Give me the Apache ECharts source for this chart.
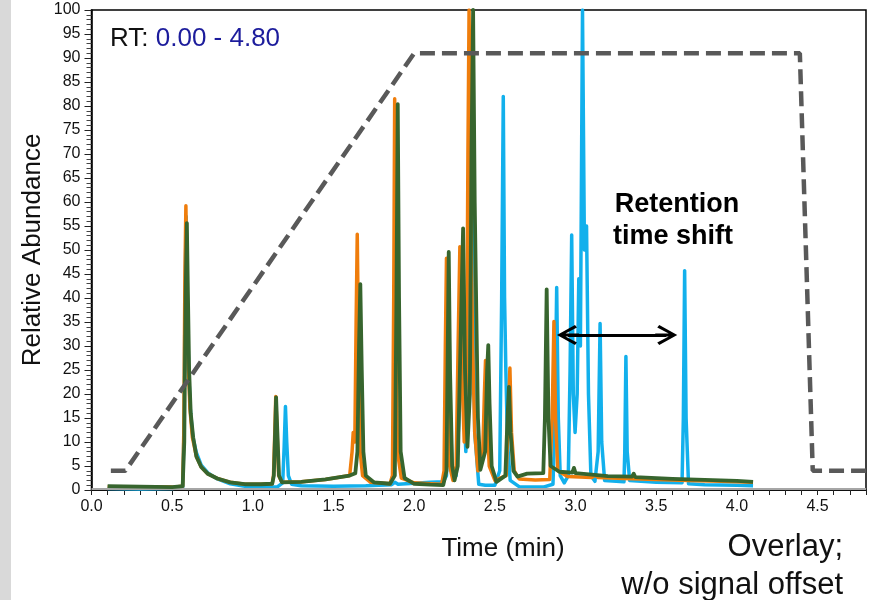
<!DOCTYPE html>
<html>
<head>
<meta charset="utf-8">
<script src="https://cdn.jsdelivr.net/npm/echarts@6/dist/echarts.min.js"></script>
<style>
  html, body { margin: 0; padding: 0; background: #fff; }
  #chart { width: 871px; height: 600px; }
</style>
</head>
<body>
<div id="chart"></div>
<script>
// gradient program (%B)
const gradientPct = [[0.12, 4], [0.21, 4], [2.0, 91], [4.39, 91], [4.47, 4], [4.8, 4]];

// chromatograms [time (min), relative abundance]
const traceBlue = [
  [0.10, 0.3], [0.30, 0.2], [0.50, 0.3], [0.565, 0.5], [0.573, 12], [0.580, 42], [0.587, 57], [0.594, 40],
  [0.602, 25], [0.612, 17], [0.628, 11], [0.65, 7.8], [0.68, 5.2], [0.72, 3.6], [0.78, 2.3], [0.86, 1.3],
  [0.95, 0.8], [1.05, 0.6], [1.15, 0.6], [1.185, 1.5], [1.194, 9], [1.202, 17.4], [1.21, 10], [1.22, 3],
  [1.24, 1.2], [1.30, 0.9], [1.50, 0.8], [1.70, 0.9], [1.86, 1.1], [1.88, 1.6], [1.90, 1.2], [2.00, 1.4],
  [2.10, 1.6], [2.18, 1.7], [2.20, 3], [2.208, 25], [2.214, 40], [2.222, 18], [2.235, 4], [2.26, 3],
  [2.285, 20], [2.295, 42], [2.305, 20], [2.32, 8], [2.335, 25], [2.348, 85], [2.355, 92], [2.362, 50],
  [2.375, 12], [2.40, 1.2], [2.44, 1.0], [2.50, 1.0], [2.53, 4], [2.542, 40], [2.552, 82], [2.560, 40],
  [2.568, 24.9], [2.578, 10], [2.595, 2], [2.65, 0.7], [2.80, 0.6], [2.86, 1.2], [2.872, 15], [2.883, 42.2],
  [2.893, 15], [2.905, 3], [2.93, 1.5], [2.955, 3], [2.966, 25], [2.976, 53.1], [2.986, 20], [2.997, 12],
  [3.01, 20], [3.02, 44], [3.03, 30], [3.043, 100], [3.055, 50], [3.068, 55], [3.08, 20], [3.095, 3],
  [3.12, 1.8], [3.14, 8], [3.152, 34.7], [3.162, 10], [3.18, 2], [3.30, 1.7], [3.305, 8], [3.312, 27.8],
  [3.32, 8], [3.335, 2], [3.50, 1.6], [3.66, 1.5], [3.668, 15], [3.676, 45.7], [3.685, 15], [3.70, 1.3],
  [3.80, 1.1], [4.00, 1.0], [4.10, 0.9]
];

const traceOrange = [
  [0.10, 0.7], [0.30, 0.6], [0.50, 0.6], [0.565, 0.8], [0.572, 12], [0.579, 45], [0.585, 59.2], [0.592, 42],
  [0.600, 26], [0.610, 17], [0.625, 11], [0.65, 7], [0.68, 4.8], [0.72, 3.4], [0.78, 2.4], [0.86, 1.6],
  [0.95, 1.2], [1.05, 1.2], [1.12, 1.3], [1.128, 3], [1.136, 12], [1.142, 19.5], [1.15, 12], [1.16, 3],
  [1.18, 1.6], [1.30, 1.7], [1.45, 2.2], [1.60, 3.0], [1.615, 8], [1.622, 12], [1.632, 10], [1.64, 35],
  [1.647, 53.3], [1.655, 30], [1.665, 8], [1.68, 3], [1.73, 1.6], [1.85, 1.3], [1.865, 3], [1.873, 40],
  [1.879, 81.5], [1.886, 40], [1.896, 8], [1.92, 2.5], [2.00, 1.5], [2.10, 1.3], [2.17, 1.2], [2.185, 4],
  [2.193, 30], [2.200, 48.3], [2.208, 25], [2.22, 5], [2.24, 2], [2.26, 5], [2.272, 30], [2.283, 50.7],
  [2.295, 25], [2.31, 10], [2.325, 25], [2.333, 70], [2.340, 100], [2.35, 60], [2.362, 30], [2.375, 12],
  [2.395, 4], [2.425, 8], [2.435, 20], [2.442, 27], [2.45, 16], [2.465, 5], [2.50, 2], [2.57, 3],
  [2.583, 15], [2.593, 25.4], [2.603, 12], [2.62, 4], [2.65, 2.3], [2.75, 2.1], [2.84, 2.2], [2.855, 15],
  [2.866, 35.1], [2.876, 15], [2.89, 4], [2.95, 2.8], [3.10, 2.6], [3.12, 3.1], [3.14, 2.6], [3.30, 2.4],
  [3.50, 2.2], [3.70, 2.0], [3.90, 1.8], [4.10, 1.6]
];

const traceGreen = [
  [0.10, 0.8], [0.30, 0.7], [0.50, 0.6], [0.565, 0.8], [0.575, 10], [0.583, 40], [0.591, 55.6], [0.598, 40],
  [0.605, 25], [0.615, 16], [0.63, 11], [0.65, 7], [0.68, 4.8], [0.72, 3.4], [0.78, 2.4], [0.86, 1.6],
  [0.95, 1.2], [1.05, 1.2], [1.12, 1.3], [1.13, 3], [1.138, 12], [1.144, 19.3], [1.152, 12], [1.162, 3],
  [1.18, 1.6], [1.30, 1.7], [1.45, 2.2], [1.60, 3.0], [1.635, 3.5], [1.648, 8], [1.658, 30], [1.666, 42.9],
  [1.675, 25], [1.685, 8], [1.70, 3], [1.75, 1.6], [1.85, 1.3], [1.88, 3], [1.89, 40], [1.898, 80.4],
  [1.906, 40], [1.916, 8], [1.94, 2.5], [2.00, 1.3], [2.10, 1.1], [2.18, 1.0], [2.20, 4], [2.208, 30],
  [2.214, 49.6], [2.222, 25], [2.235, 5], [2.25, 2], [2.27, 5], [2.29, 35], [2.303, 54.5], [2.315, 25],
  [2.33, 9], [2.345, 20], [2.355, 70], [2.365, 100], [2.375, 60], [2.385, 36.8], [2.395, 15], [2.41, 4.2],
  [2.44, 8], [2.452, 25], [2.459, 30.2], [2.467, 18], [2.48, 5], [2.51, 1.7], [2.565, 3], [2.578, 15],
  [2.587, 21.5], [2.597, 12], [2.615, 4], [2.64, 2.8], [2.70, 3.4], [2.80, 3.5], [2.81, 15], [2.821, 41.8],
  [2.832, 15], [2.845, 5], [2.90, 3.8], [2.98, 3.6], [2.99, 4.6], [3.00, 3.5], [3.20, 2.9], [3.35, 2.8],
  [3.36, 3.4], [3.37, 2.7], [3.60, 2.3], [3.80, 2.1], [4.00, 1.9], [4.10, 1.7]
];

const arrowSpan = [2.953, 3.562];
const arrowLevel = 32.3;
const zeroLine = 0.35;

const chevron = 'path://M10,0 L20,18 L17.5,20 L11.5,8.5 L11.5,22 L8.5,22 L8.5,8.5 L2.5,20 L0,18 Z';
const FONT = '"Liberation Sans", Arial, sans-serif';

const myChart = echarts.init(document.getElementById('chart'));

const option = {
  animation: false,
  backgroundColor: '#fff',
  grid: {
    left: 91.5, right: 5, top: 10, bottom: 110,
    show: true, borderColor: '#000', borderWidth: 1.5, backgroundColor: 'transparent'
  },
  xAxis: {
    type: 'value', min: 0, max: 4.8, interval: 0.1,
    axisLine: { onZero: false, lineStyle: { color: '#000', width: 1.5 } },
    axisTick: { length: 5, lineStyle: { color: '#222', width: 1 } },
    splitLine: { show: false },
    axisLabel: {
      margin: 9, color: '#111', fontSize: 16, fontFamily: FONT,
      formatter: v => {
        const k = Math.round(v * 10);
        return (k % 5 === 0 && k < 48) ? (k / 10).toFixed(1) : '';
      }
    }
  },
  yAxis: {
    type: 'value', min: 0, max: 100, interval: 5,
    axisLine: { lineStyle: { color: '#000', width: 1.5 } },
    axisTick: { length: 7, lineStyle: { color: '#222', width: 1 } },
    minorTick: { show: true, splitNumber: 5, length: 5, lineStyle: { color: '#444', width: 1 } },
    splitLine: { show: false },
    axisLabel: { margin: 11, color: '#111', fontSize: 16, fontFamily: FONT, padding: [8, 0, 0, 0] }
  },
  graphic: [
    { type: 'rect', left: 0, top: 0, z: -10, shape: { width: 11, height: 600 }, style: { fill: '#d9d9d9' } },
    {
      type: 'text', left: 110, top: 26,
      style: {
        text: '{a|RT: }{b|0.00 - 4.80}',
        rich: {
          a: { fontSize: 26, fontFamily: FONT, fill: '#111' },
          b: { fontSize: 26, fontFamily: FONT, fill: '#1c1c9c' }
        }
      }
    },
    {
      type: 'text', x: 33, y: 250, rotation: Math.PI / 2,
      style: { text: 'Relative Abundance', fontSize: 26, fontFamily: FONT, fill: '#111', align: 'center', verticalAlign: 'middle' }
    },
    {
      type: 'text', x: 503, y: 549,
      style: { text: 'Time (min)', fontSize: 26, fontFamily: FONT, fill: '#111', align: 'center', verticalAlign: 'middle' }
    },
    {
      type: 'text', x: 843, y: 547,
      style: { text: 'Overlay;', fontSize: 31, fontFamily: FONT, fill: '#111', align: 'right', verticalAlign: 'middle' }
    },
    {
      type: 'text', x: 843, y: 585,
      style: { text: 'w/o signal offset', fontSize: 31, fontFamily: FONT, fill: '#111', align: 'right', verticalAlign: 'middle' }
    },
    {
      type: 'text', x: 677, y: 205,
      style: { text: 'Retention', fontSize: 27, fontWeight: 'bold', fontFamily: FONT, fill: '#000', align: 'center', verticalAlign: 'middle' }
    },
    {
      type: 'text', x: 673, y: 237,
      style: { text: 'time shift', fontSize: 27, fontWeight: 'bold', fontFamily: FONT, fill: '#000', align: 'center', verticalAlign: 'middle' }
    }
  ],
  series: [
    {
      name: 'blue', type: 'line', data: traceBlue, showSymbol: false, z: 3,
      lineStyle: { color: '#12b0ec', width: 3.5, join: 'round' },
      markLine: {
        silent: true, symbol: 'none',
        lineStyle: { color: '#a6a6a6', width: 2, type: 'solid' },
        label: { show: false },
        data: [{ yAxis: zeroLine }]
      }
    },
    {
      name: 'orange', type: 'line', data: traceOrange, showSymbol: false, z: 4,
      lineStyle: { color: '#ef7d0c', width: 3.5, join: 'round' }
    },
    {
      name: 'green', type: 'line', data: traceGreen, showSymbol: false, z: 5,
      lineStyle: { color: '#37652e', width: 3.8, join: 'round' }
    },
    {
      name: 'gradient', type: 'line', data: gradientPct, showSymbol: false, z: 6,
      lineStyle: { color: '#595959', width: 4.5, type: [15, 7] },
      markLine: {
        silent: true,
        symbol: [chevron, chevron], symbolSize: [20, 22],
        lineStyle: { color: '#000', width: 3, type: 'solid' },
        label: { show: false },
        data: [[{ coord: [arrowSpan[0], arrowLevel] }, { coord: [arrowSpan[1], arrowLevel] }]]
      }
    }
  ]
};

myChart.setOption(option);
window.addEventListener('resize', () => myChart.resize());
</script>
</body>
</html>
